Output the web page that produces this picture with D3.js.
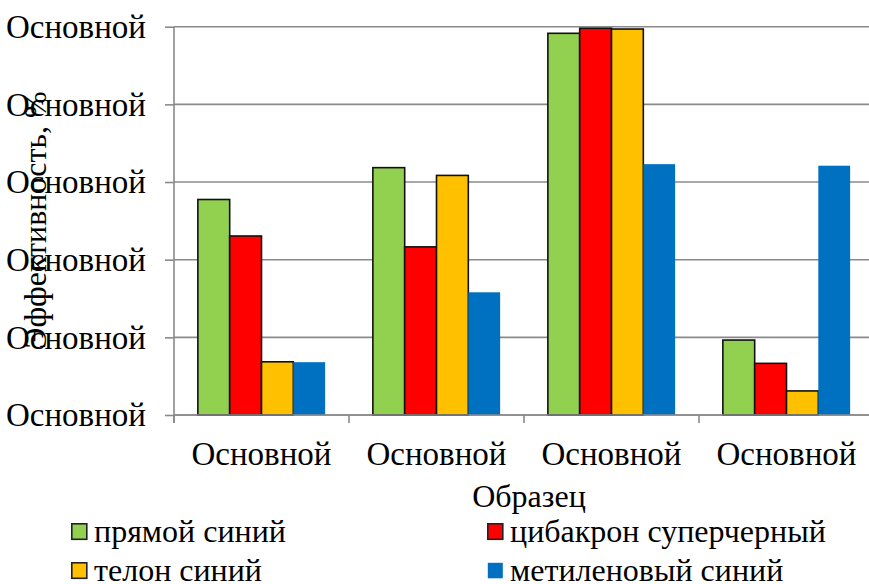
<!DOCTYPE html>
<html>
<head>
<meta charset="utf-8">
<script src="https://cdn.jsdelivr.net/npm/d3@7"></script>
<style>
  html, body { margin: 0; padding: 0; background: #fff; }
  svg { display: block; }
</style>
</head>
<body>
<svg id="chart" width="869" height="584"></svg>
<script>
// Categories along the x axis and the tick labels on y
const categories = ["Основной", "Основной", "Основной", "Основной"];
const yTicks = [0, 20, 40, 60, 80, 100];
const yTickLabels = ["Основной", "Основной", "Основной", "Основной", "Основной", "Основной"];

// Series values (efficiency, %) per category
const seriesNames = ["прямой синий", "цибакрон суперчерный", "телон синий", "метиленовый синий"];
const pryamoySiniy = [55.5, 63.7, 98.3, 19.3];
const tsibakron = [46.1, 43.3, 99.6, 13.3];
const telonSiniy = [13.7, 61.7, 99.4, 6.2];
const metilenoviy = [13.6, 31.6, 64.6, 64.2];
const seriesValues = [pryamoySiniy, tsibakron, telonSiniy, metilenoviy];
const seriesColors = ["#92d050", "#ff0000", "#ffc000", "#0070c0"];
const seriesStroke = ["#111", "#111", "#111", "none"];

const FONT = "Liberation Serif";
const svg = d3.select("#chart");
const margin = { left: 174, right: -5, top: 26.7, bottom: 169 };
const W = 869, H = 584;
const plotRight = W - margin.right;
const plotBottom = H - margin.bottom;

const x0 = d3.scaleBand().domain(d3.range(categories.length))
  .range([margin.left, plotRight]).paddingInner(0).paddingOuter(0);
const x1 = d3.scaleBand().domain(d3.range(seriesNames.length))
  .range([0, x0.bandwidth()]).paddingOuter(0.75).paddingInner(0);
const y = d3.scaleLinear().domain([0, 100]).range([plotBottom, margin.top]);

const gridColor = "#8a8a8a";

// Horizontal gridlines
svg.append("g").selectAll("line").data(yTicks).join("line")
  .attr("x1", margin.left).attr("x2", plotRight)
  .attr("y1", d => y(d)).attr("y2", d => y(d))
  .attr("stroke", gridColor).attr("stroke-width", 1.6);

// Bars
const groups = svg.append("g").selectAll("g").data(categories).join("g")
  .attr("transform", (d, i) => `translate(${x0(i)},0)`);
groups.selectAll("rect")
  .data((d, i) => seriesValues.map((s, k) => ({ k, v: s[i] })))
  .join("rect")
  .attr("x", d => x1(d.k))
  .attr("width", x1.bandwidth())
  .attr("y", d => y(d.v))
  .attr("height", d => plotBottom - y(d.v))
  .attr("fill", d => seriesColors[d.k])
  .attr("stroke", d => seriesStroke[d.k])
  .attr("stroke-width", 1.6);

// Y axis
const yAxis = d3.axisLeft(y).tickValues(yTicks).tickSize(9).tickSizeOuter(0)
  .tickFormat((d, i) => yTickLabels[i]).tickPadding(19);
const gy = svg.append("g").attr("transform", `translate(${margin.left},0)`).call(yAxis)
  .attr("font-family", FONT).attr("font-size", 33);
gy.select(".domain").attr("stroke", gridColor).attr("stroke-width", 1.6)
  .attr("d", `M0,${margin.top}V${plotBottom + 8}`);
gy.selectAll(".tick line").attr("stroke", gridColor).attr("stroke-width", 1.6);
gy.selectAll(".tick text").attr("fill", "#000").attr("dy", "0.33em");

// X axis: category boundary ticks and centred labels
const gx = svg.append("g").attr("font-family", FONT);
gx.append("line").attr("x1", margin.left).attr("x2", plotRight)
  .attr("y1", plotBottom).attr("y2", plotBottom)
  .attr("stroke", gridColor).attr("stroke-width", 1.6);
gx.selectAll("line.tk").data(d3.range(categories.length)).join("line")
  .attr("class", "tk")
  .attr("x1", i => x0(i)).attr("x2", i => x0(i))
  .attr("y1", plotBottom).attr("y2", plotBottom + 8)
  .attr("stroke", gridColor).attr("stroke-width", 1.6);
gx.selectAll("text").data(categories).join("text")
  .attr("x", (d, i) => x0(i) + x0.bandwidth() / 2)
  .attr("y", 465)
  .attr("text-anchor", "middle")
  .attr("font-size", 33)
  .text(d => d);

// Axis titles
svg.append("text")
  .attr("transform", "translate(46,220) rotate(-90)")
  .attr("text-anchor", "middle")
  .attr("font-family", FONT).attr("font-size", 32)
  .text("Эффективность, %");
svg.append("text")
  .attr("x", 529).attr("y", 507)
  .attr("text-anchor", "middle")
  .attr("font-family", FONT).attr("font-size", 32)
  .text("Образец");

// Legend, two columns
const legendPos = [[71, 542], [487, 542], [71, 581], [487, 581]];
const lg = svg.append("g").attr("font-family", FONT)
  .selectAll("g").data(seriesNames).join("g")
  .attr("transform", (d, i) => `translate(${legendPos[i][0]},${legendPos[i][1]})`);
lg.append("rect")
  .attr("x", 0.8).attr("y", -18.2).attr("width", 15).attr("height", 15.5)
  .attr("fill", (d, i) => seriesColors[i])
  .attr("stroke", (d, i) => seriesStroke[i] === "none" ? "none" : "#222")
  .attr("stroke-width", 1.6);
lg.append("text")
  .attr("x", 23).attr("y", 0)
  .attr("font-size", 32)
  .text(d => d);
</script>
</body>
</html>
